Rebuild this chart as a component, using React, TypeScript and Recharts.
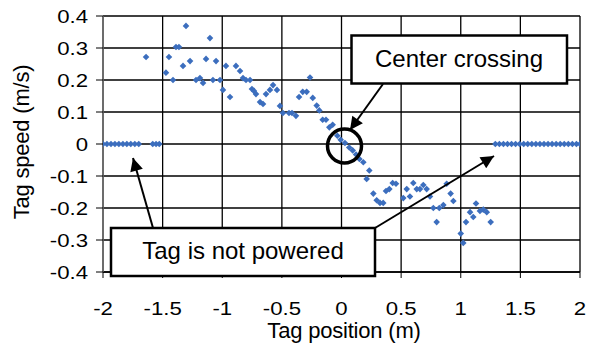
import React from "react";
import {
  ScatterChart,
  Scatter,
  XAxis,
  YAxis,
  CartesianGrid,
} from "recharts";

// tag position (m) and tag speed (m/s)
const positions = [
  -2.0, -1.967, -1.933, -1.9, -1.867, -1.833, -1.8, -1.767, -1.733, -1.7,
  -1.583, -1.555, -1.528,
  -1.639, -1.472, -1.447, -1.413, -1.388, -1.363, -1.329, -1.304, -1.27, -1.22,
  -1.187, -1.161, -1.136, -1.103, -1.078, -1.052, -1.019, -0.994, -0.969, -0.935,
  -0.885, -0.851, -0.826, -0.801, -0.767, -0.751, -0.734, -0.717, -0.683, -0.658,
  -0.633, -0.6, -0.574, -0.541, -0.516, -0.491, -0.44, -0.415, -0.382, -0.356,
  -0.325, -0.292, -0.264, -0.241, -0.208, -0.186, -0.158, -0.13, -0.102, -0.074,
  -0.035, -0.007, 0.029, 0.065, 0.094, 0.122, 0.15, 0.183, 0.211, 0.233, 0.267,
  0.295, 0.323, 0.35, 0.373, 0.401, 0.429, 0.457, 0.518, 0.547, 0.574, 0.602,
  0.631, 0.658, 0.686, 0.714, 0.742, 0.77, 0.798, 0.82, 0.854, 0.882, 0.915,
  0.938, 1.0, 1.021, 1.044, 1.078, 1.105, 1.128, 1.161, 1.189, 1.218, 1.251,
  1.29, 1.324, 1.358, 1.392, 1.426, 1.46, 1.494, 1.528, 1.562, 1.596, 1.63,
  1.664, 1.698, 1.732, 1.766, 1.8, 1.834, 1.868, 1.902, 1.936, 1.97, 2.0,
];

const speeds = [
  0, 0, 0, 0, 0, 0, 0, 0, 0, 0,
  0, 0, 0,
  0.272, 0.223, 0.272, 0.2, 0.303, 0.303, 0.244, 0.369, 0.259, 0.2,
  0.206, 0.191, 0.266, 0.331, 0.2, 0.259, 0.2, 0.169, 0.244, 0.147,
  0.244, 0.228, 0.206, 0.2, 0.2, 0.172, 0.166, 0.156, 0.131, 0.125,
  0.156, 0.169, 0.184, 0.169, 0.119, 0.097, 0.097, 0.097, 0.088, 0.147,
  0.163, 0.163, 0.208, 0.144, 0.12, 0.105, 0.076, 0.076, 0.052, 0.06,
  0.026, 0.013, 0.003, -0.011, -0.02, -0.033, -0.047, -0.057, -0.109, -0.083, -0.155,
  -0.176, -0.184, -0.184, -0.147, -0.141, -0.122, -0.124, -0.169, -0.141, -0.164, -0.122,
  -0.141, -0.141, -0.128, -0.141, -0.164, -0.2, -0.244, -0.2, -0.191, -0.124, -0.155,
  -0.178, -0.28, -0.309, -0.244, -0.213, -0.228, -0.186, -0.209, -0.205, -0.213, -0.244,
  0, 0, 0, 0, 0, 0, 0, 0, 0, 0, 0,
  0, 0, 0, 0, 0, 0, 0, 0, 0, 0, 0,
];

const xTicks = [-2, -1.5, -1, -0.5, 0, 0.5, 1, 1.5, 2];
const yTicks = [-0.4, -0.3, -0.2, -0.1, 0, 0.1, 0.2, 0.3, 0.4];

const points = positions.map((x, i) => ({ x, y: speeds[i] }));

const FONT = "'Liberation Sans', Arial, sans-serif";

const Diamond = (props: any) => {
  const { cx, cy } = props;
  if (cx == null || cy == null) return null;
  const r = 3.3;
  return (
    <polygon
      points={`${cx},${cy - r} ${cx + r},${cy} ${cx},${cy + r} ${cx - r},${cy}`}
      fill="#3C6EBE"
    />
  );
};

const YTick = (props: any) => {
  const { x, y, payload } = props;
  return (
    <g transform={`translate(${x},${y}) scale(1.2,1)`}>
      <text textAnchor="end" dy="0.36em" fontSize={18.5} fontFamily={FONT} fill="#000">
        {payload.value}
      </text>
    </g>
  );
};

const XTick = (props: any) => {
  const { x, y, payload } = props;
  return (
    <g transform={`translate(${x},${y}) scale(1.2,1)`}>
      <text textAnchor="middle" dy="0.71em" fontSize={18.5} fontFamily={FONT} fill="#000">
        {payload.value}
      </text>
    </g>
  );
};

export default function App() {
  return (
    <div style={{ position: "absolute", left: 0, top: 0, width: 589, height: 343, background: "#fff" }}>
      <ScatterChart
        width={589}
        height={343}
        margin={{ top: 16, right: 9, left: 0, bottom: 0 }}
      >
        <CartesianGrid
          horizontal={{ stroke: "#000", strokeWidth: 1.3 } as any}
          vertical={{ stroke: "#555", strokeWidth: 1.3 } as any}
          stroke="#000"
          strokeWidth={1.3}
        />
        <XAxis
          type="number"
          dataKey="x"
          domain={[-2, 2]}
          ticks={xTicks}
          height={71}
          tickSize={6}
          tickMargin={24}
          tick={<XTick />}
          axisLine={{ stroke: "#000", strokeWidth: 1.3 }}
          tickLine={{ stroke: "#000" }}
          allowDataOverflow
        />
        <YAxis
          type="number"
          dataKey="y"
          domain={[-0.4, 0.4]}
          ticks={yTicks}
          width={103}
          tickSize={7}
          tickMargin={8}
          tick={<YTick />}
          axisLine={{ stroke: "#777", strokeWidth: 1.3 }}
          tickLine={{ stroke: "#000" }}
          allowDataOverflow
        />
        <Scatter data={points} shape={<Diamond />} isAnimationActive={false} />
      </ScatterChart>
      <svg
        width={589}
        height={343}
        style={{ position: "absolute", left: 0, top: 0, pointerEvents: "none" }}
      >
        <defs>
          <marker id="bighead" viewBox="0 0 10 10" refX="10" refY="5" markerWidth="16" markerHeight="13" markerUnits="userSpaceOnUse" orient="auto">
            <path d="M0,0 L10,5 L0,10 z" fill="#000" />
          </marker>
        </defs>
        <text
          x={344}
          y={332}
          textAnchor="middle"
          dominantBaseline="middle"
          fontSize={22}
          fontFamily={FONT}
          letterSpacing={-0.2}
        >
          Tag position (m)
        </text>
        <text
          transform="translate(23,142) rotate(-90)"
          textAnchor="middle"
          dominantBaseline="middle"
          fontSize={22}
          fontFamily={FONT}
          letterSpacing={-0.2}
        >
          Tag speed (m/s)
        </text>
        <circle cx={344.5} cy={146} r={17} fill="none" stroke="#000" strokeWidth={3.5} />
        <line x1={383} y1={84} x2={350} y2={130} stroke="#000" strokeWidth={2} markerEnd="url(#bighead)" />
        <line x1={153} y1={228} x2={133} y2={158} stroke="#000" strokeWidth={2} markerEnd="url(#bighead)" />
        <line x1={375} y1={228} x2={494} y2={156} stroke="#000" strokeWidth={2} markerEnd="url(#bighead)" />
        <rect x={351.5} y={35.5} width={215.5} height={48} fill="#fff" stroke="#000" strokeWidth={2.5} />
        <text x={459} y={61} textAnchor="middle" dominantBaseline="middle" fontSize={24} fontFamily={FONT}>
          Center crossing
        </text>
        <rect x={111} y={228} width={264} height={48} fill="#fff" stroke="#000" strokeWidth={2.5} />
        <text x={243} y={253} textAnchor="middle" dominantBaseline="middle" fontSize={24} fontFamily={FONT}>
          Tag is not powered
        </text>
      </svg>
    </div>
  );
}
